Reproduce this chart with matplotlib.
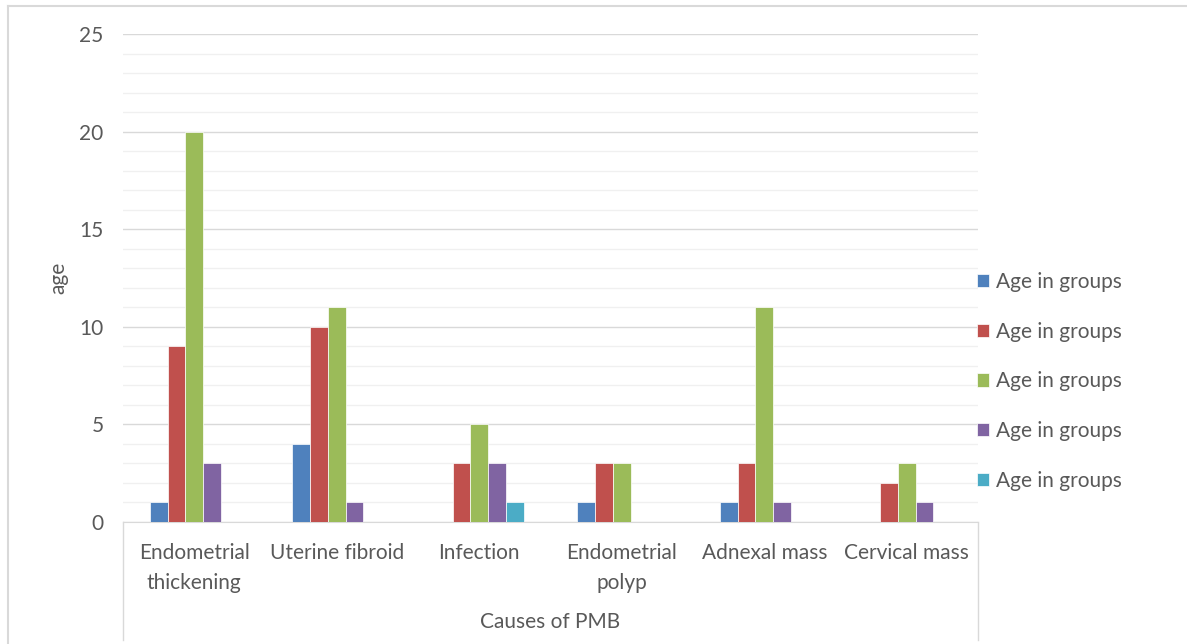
import matplotlib.pyplot as plt
import numpy as np
from matplotlib.lines import Line2D

plt.rcParams['font.family'] = ['Lato', 'DejaVu Sans']

categories = ['Endometrial\nthickening', 'Uterine fibroid', 'Infection',
              'Endometrial\npolyp', 'Adnexal mass', 'Cervical mass']
series_labels = ['Age in groups'] * 5
s1 = [1, 4, 0, 1, 1, 0]
s2 = [9, 10, 3, 3, 3, 2]
s3 = [20, 11, 5, 3, 11, 3]
s4 = [3, 1, 3, 0, 1, 1]
s5 = [0, 0, 1, 0, 0, 0]
colors = ['#4F81BD', '#C0504D', '#9BBB59', '#8064A2', '#4BACC6']

W, H = 1187, 644
fig = plt.figure(figsize=(W / 100, H / 100), dpi=100)
ax = fig.add_axes([123 / W, (H - 522) / H, (978 - 123) / W, (522 - 34) / H])

txt = '#595959'
fs = 15
x = np.arange(len(categories))
bw = 0.125
for i, (vals, c) in enumerate(zip([s1, s2, s3, s4, s5], colors)):
    ax.bar(x + (i - 2) * bw, vals, bw, color=c, edgecolor='white',
           linewidth=0.5, label=series_labels[i], zorder=3)

ax.set_xlim(-0.5, len(categories) - 0.5)
ax.set_ylim(0, 25)
ax.set_yticks(range(0, 26, 5))
ax.set_yticks(range(0, 26), minor=True)
ax.grid(axis='y', which='major', color='#D9D9D9', linewidth=1, zorder=0)
ax.grid(axis='y', which='minor', color='#F0F0F0', linewidth=1, zorder=0)
ax.set_xticks(x)
ax.set_xticklabels(categories, fontsize=fs, color=txt, linespacing=1.65)
ax.tick_params(axis='both', which='both', length=0, labelsize=fs, labelcolor=txt)
ax.tick_params(axis='x', pad=15)
ax.tick_params(axis='y', pad=14)
for s in ['left', 'right', 'top']:
    ax.spines[s].set_visible(False)
ax.spines['bottom'].set_color('#D9D9D9')

# category box lines under the axis
tr = ax.get_xaxis_transform()
for xv in [-0.5, len(categories) - 0.5]:
    ax.plot([xv, xv], [0, -118 / 488], transform=tr, color='#D9D9D9',
            linewidth=1, clip_on=False)

ax.set_ylabel('age', fontsize=fs, color=txt, labelpad=8)
fig.text(550 / W, 1 - 622 / H, 'Causes of PMB', fontsize=fs, color=txt,
         ha='center', va='center')

ax.legend(loc='upper left', bbox_to_anchor=(958 / W, 1 - 253 / H),
          bbox_transform=fig.transFigure, frameon=False, fontsize=fs,
          labelcolor=txt, handlelength=0.6, handleheight=0.6,
          handletextpad=0.3, labelspacing=1.43)

# outer chart border
fig.add_artist(Line2D([8 / W, 1], [1 - 6 / H, 1 - 6 / H], color='#D9D9D9', linewidth=1.5))
fig.add_artist(Line2D([8 / W, 8 / W], [0, 1 - 6 / H], color='#D9D9D9', linewidth=1.5))

fig.savefig('out.png', dpi=100)
